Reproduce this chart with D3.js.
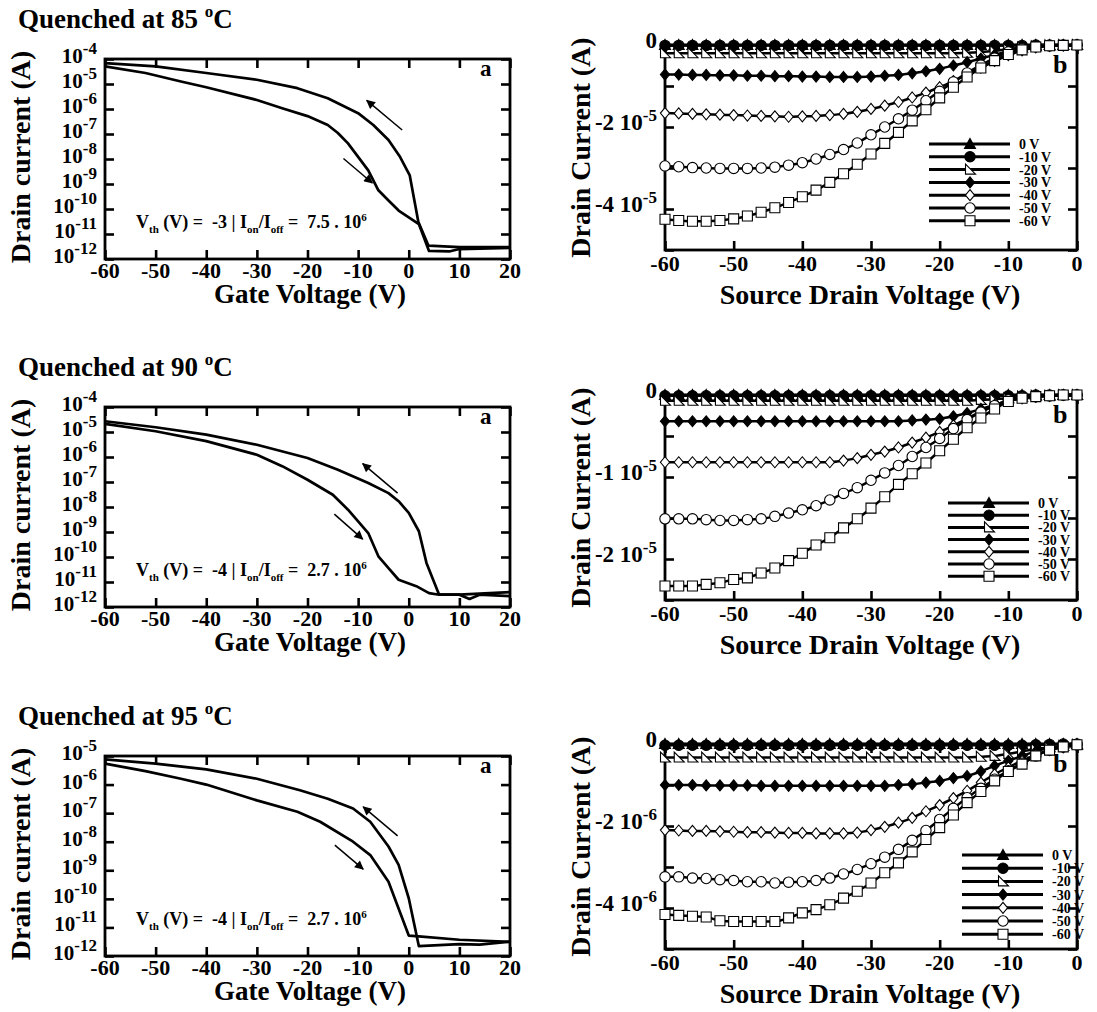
<!DOCTYPE html>
<html>
<head>
<meta charset="utf-8">
<script src="https://cdn.jsdelivr.net/npm/d3@7"></script>
<style>
body { margin: 0; background: #fff; }
text { font-family: "Liberation Serif", "Times New Roman", serif; font-weight: bold; fill: #000; white-space: pre; }
</style>
</head>
<body>
<svg id="fig" width="1097" height="1012"></svg>
<script>
// ---- data ----
var temps = ["85", "90", "95"];
var vthVals = ["-3", "-4", "-4"];
var ratioVals = ["7.5", "2.7", "2.7"];
var gateTicks = [-60, -50, -40, -30, -20, -10, 0, 10, 20];
var sdTicks = [-60, -50, -40, -30, -20, -10, 0];

// transfer curves, gate voltage (V) / drain current (A)
var up85V = [-60, -50, -40, -30, -22, -16, -10, -7, -4, -1.7, 0.2, 1.9, 3.9, 10, 20];
var up85I = [6.9e-5, 5.1e-5, 2.75e-5, 1.48e-5, 6.8e-6, 2.7e-6, 6.8e-7, 2.3e-7, 5.8e-8, 1.2e-8, 2.2e-9, 3.0e-11, 3.4e-12, 3.0e-12, 3.0e-12];
var dn85V = [-60, -52, -45, -40, -30, -25, -20, -16, -14, -12, -8, -6, -4, -2, 2, 4, 8, 10, 20];
var dn85I = [5.1e-5, 2.75e-5, 1.26e-5, 7.4e-6, 2.3e-6, 1.07e-6, 5.2e-7, 2.3e-7, 1.1e-7, 4.2e-8, 3.5e-9, 5.6e-10, 2.2e-10, 8.7e-11, 2.5e-11, 2.1e-12, 2.0e-12, 2.5e-12, 2.75e-12];
var up90V = [-60, -50, -40, -30, -20, -14, -8, -4, -2, 0, 2, 3.5, 6, 10, 20];
var up90I = [2.7e-5, 1.55e-5, 7.8e-6, 3.1e-6, 9.1e-7, 3.1e-7, 9.1e-8, 3.6e-8, 1.7e-8, 5.8e-9, 1.07e-9, 5.8e-11, 3.1e-12, 3.1e-12, 3.9e-12];
var dn90V = [-60, -50, -40, -30, -25, -20, -15, -12, -8, -6, -4, -2, 1.5, 4, 6, 10, 12, 14, 20];
var dn90I = [2.1e-5, 1.07e-5, 4.3e-6, 1.23e-6, 4.3e-7, 1.23e-7, 3.1e-8, 7.8e-9, 9.1e-10, 1.07e-10, 3.6e-11, 1.23e-11, 6.8e-12, 3.6e-12, 3.1e-12, 3.1e-12, 2.1e-12, 3.1e-12, 2.7e-12];
var up95V = [-60, -50, -40, -30, -21.5, -16, -11, -7.6, -4, -2, 0, 2, 10, 14, 20];
var up95I = [7.6e-6, 5.4e-6, 3.4e-6, 1.6e-6, 6.3e-7, 3.2e-7, 1.45e-7, 5.0e-8, 6.8e-9, 1.55e-9, 1.05e-10, 2.2e-12, 2.6e-12, 2.5e-12, 3.2e-12];
var dn95V = [-60, -52, -45, -40, -30, -22, -17.5, -11, -7.6, -4, 0, 2, 10, 20];
var dn95I = [5.4e-6, 2.95e-6, 1.6e-6, 1.0e-6, 2.8e-7, 1.12e-7, 5.0e-8, 1.0e-8, 3.4e-9, 4.0e-10, 5.2e-12, 4.9e-12, 3.7e-12, 3.1e-12];

// decade exponents on the log axes
var decExp85 = [-4, -5, -6, -7, -8, -9, -10, -11, -12];
var decExp90 = [-4, -5, -6, -7, -8, -9, -10, -11, -12];
var decExp95 = [-5, -6, -7, -8, -9, -10, -11, -12];

// sweep arrows [V, I] start -> end
var arrowUp85 = [[-1.3, 1.45e-7], [-8.3, 2.2e-6]];
var arrowDn85 = [[-12.9, 1.05e-8], [-7.2, 1.1e-9]];
var arrowUp90 = [[-2.2, 3.6e-8], [-9.1, 5.4e-7]];
var arrowDn90 = [[-14.7, 5.2e-9], [-9.1, 5.2e-10]];
var arrowUp95 = [[-2.2, 1.6e-8], [-9.0, 1.66e-7]];
var arrowDn95 = [[-14.6, 7.6e-9], [-9.0, 1.1e-9]];

// output curves, source-drain voltage (V)
var vds = [-60, -58, -56, -54, -52, -50, -48, -46, -44, -42, -40, -38, -36, -34, -32, -30, -28, -26, -24, -22, -20, -18, -16, -14, -12, -10, -8, -6, -4, -2, 0];
var gateLabels = ["0 V", "-10 V", "-20 V", "-30 V", "-40 V", "-50 V", "-60 V"];

// 85 C, drain current in units of 1e-5 A
var ids85_0 = [0, 0, 0, 0, 0, 0, 0, 0, 0, 0, 0, 0, 0, 0, 0, 0, 0, 0, 0, 0, 0, 0, 0, 0, 0, 0, 0, 0, 0, 0, 0];
var ids85_10 = [-0.01, -0.01, -0.01, -0.01, -0.01, -0.01, -0.01, -0.01, -0.01, -0.01, -0.01, -0.01, -0.01, -0.01, -0.01, -0.01, -0.01, -0.01, -0.01, -0.01, -0.01, -0.01, -0.01, -0.01, -0.01, -0.01, -0.01, 0, 0, 0, 0];
var ids85_20 = [-0.2, -0.2, -0.2, -0.2, -0.2, -0.2, -0.2, -0.2, -0.2, -0.2, -0.2, -0.2, -0.2, -0.2, -0.2, -0.2, -0.2, -0.2, -0.2, -0.2, -0.2, -0.2, -0.19, -0.17, -0.14, -0.1, -0.06, -0.03, -0.01, 0, 0];
var ids85_30 = [-0.72, -0.72, -0.73, -0.73, -0.74, -0.74, -0.75, -0.75, -0.76, -0.76, -0.77, -0.77, -0.78, -0.78, -0.78, -0.77, -0.75, -0.73, -0.69, -0.64, -0.58, -0.5, -0.42, -0.33, -0.24, -0.16, -0.09, -0.04, -0.02, -0.01, 0];
var ids85_40 = [-1.66, -1.67, -1.68, -1.69, -1.7, -1.71, -1.72, -1.73, -1.74, -1.75, -1.74, -1.73, -1.71, -1.68, -1.63, -1.56, -1.48, -1.39, -1.28, -1.16, -1.03, -0.88, -0.72, -0.55, -0.39, -0.25, -0.13, -0.06, -0.02, -0.01, 0];
var ids85_50 = [-2.95, -2.97, -2.99, -3.0, -3.01, -3.01, -3.01, -3.0, -2.98, -2.93, -2.87, -2.78, -2.67, -2.55, -2.39, -2.19, -2.0, -1.8, -1.59, -1.36, -1.13, -0.9, -0.68, -0.49, -0.32, -0.17, -0.09, -0.04, -0.02, -0.01, 0];
var ids85_60 = [-4.25, -4.28, -4.3, -4.3, -4.28, -4.24, -4.17, -4.08, -3.97, -3.84, -3.7, -3.54, -3.35, -3.14, -2.91, -2.66, -2.4, -2.13, -1.85, -1.58, -1.29, -1.03, -0.78, -0.56, -0.38, -0.23, -0.12, -0.05, -0.02, -0.01, 0];

// 90 C, units of 1e-5 A
var ids90_0 = [0, 0, 0, 0, 0, 0, 0, 0, 0, 0, 0, 0, 0, 0, 0, 0, 0, 0, 0, 0, 0, 0, 0, 0, 0, 0, 0, 0, 0, 0, 0];
var ids90_10 = [-0.01, -0.01, -0.01, -0.01, -0.01, -0.01, -0.01, -0.01, -0.01, -0.01, -0.01, -0.01, -0.01, -0.01, -0.01, -0.01, -0.01, -0.01, -0.01, -0.01, -0.01, -0.01, -0.01, -0.01, -0.01, -0.01, -0.01, 0, 0, 0, 0];
var ids90_20 = [-0.07, -0.07, -0.07, -0.07, -0.07, -0.07, -0.07, -0.07, -0.07, -0.07, -0.07, -0.07, -0.07, -0.07, -0.07, -0.07, -0.07, -0.07, -0.07, -0.07, -0.07, -0.07, -0.07, -0.06, -0.05, -0.04, -0.02, -0.01, -0.01, 0, 0];
var ids90_30 = [-0.32, -0.32, -0.32, -0.32, -0.32, -0.32, -0.32, -0.32, -0.32, -0.32, -0.32, -0.32, -0.32, -0.32, -0.32, -0.32, -0.32, -0.32, -0.31, -0.3, -0.29, -0.26, -0.22, -0.17, -0.12, -0.07, -0.04, -0.02, -0.01, 0, 0];
var ids90_40 = [-0.82, -0.82, -0.82, -0.82, -0.82, -0.82, -0.82, -0.82, -0.82, -0.82, -0.82, -0.82, -0.82, -0.8, -0.77, -0.73, -0.69, -0.64, -0.58, -0.52, -0.45, -0.37, -0.29, -0.2, -0.13, -0.07, -0.03, -0.02, -0.01, 0, 0];
var ids90_50 = [-1.51, -1.51, -1.51, -1.52, -1.53, -1.53, -1.52, -1.51, -1.48, -1.44, -1.4, -1.35, -1.28, -1.2, -1.13, -1.04, -0.95, -0.86, -0.75, -0.64, -0.53, -0.41, -0.3, -0.21, -0.13, -0.06, -0.03, -0.02, -0.01, 0, 0];
var ids90_60 = [-2.33, -2.33, -2.33, -2.31, -2.29, -2.25, -2.23, -2.17, -2.11, -2.02, -1.93, -1.83, -1.74, -1.62, -1.51, -1.38, -1.24, -1.09, -0.96, -0.83, -0.68, -0.54, -0.4, -0.28, -0.17, -0.08, -0.04, -0.02, -0.01, 0, 0];

// 95 C, units of 1e-6 A
var ids95_0 = [0, 0, 0, 0, 0, 0, 0, 0, 0, 0, 0, 0, 0, 0, 0, 0, 0, 0, 0, 0, 0, 0, 0, 0, 0, 0, 0, 0, 0, 0, 0];
var ids95_10 = [-0.03, -0.03, -0.03, -0.03, -0.03, -0.03, -0.03, -0.03, -0.03, -0.03, -0.03, -0.03, -0.03, -0.03, -0.03, -0.03, -0.03, -0.03, -0.03, -0.03, -0.03, -0.03, -0.03, -0.03, -0.03, -0.03, -0.03, -0.02, -0.01, 0, 0];
var ids95_20 = [-0.33, -0.33, -0.33, -0.33, -0.33, -0.33, -0.33, -0.33, -0.33, -0.33, -0.33, -0.33, -0.33, -0.33, -0.33, -0.33, -0.33, -0.33, -0.33, -0.33, -0.33, -0.33, -0.33, -0.31, -0.29, -0.24, -0.18, -0.12, -0.08, -0.05, -0.02];
var ids95_30 = [-1.0, -1.0, -1.0, -1.01, -1.01, -1.01, -1.01, -1.02, -1.02, -1.02, -1.02, -1.02, -1.02, -1.02, -1.02, -1.02, -1.02, -1.0, -0.98, -0.94, -0.9, -0.83, -0.78, -0.67, -0.53, -0.41, -0.29, -0.18, -0.1, -0.06, -0.03];
var ids95_40 = [-2.1, -2.11, -2.12, -2.12, -2.13, -2.14, -2.15, -2.15, -2.16, -2.17, -2.17, -2.18, -2.18, -2.18, -2.16, -2.1, -2.02, -1.92, -1.8, -1.64, -1.49, -1.32, -1.14, -0.94, -0.74, -0.57, -0.41, -0.26, -0.15, -0.08, -0.04];
var ids95_50 = [-3.24, -3.24, -3.27, -3.28, -3.31, -3.33, -3.36, -3.36, -3.39, -3.37, -3.36, -3.33, -3.27, -3.17, -3.06, -2.92, -2.76, -2.57, -2.35, -2.11, -1.84, -1.57, -1.31, -1.08, -0.86, -0.65, -0.47, -0.29, -0.15, -0.07, -0.02];
var ids95_60 = [-4.16, -4.18, -4.2, -4.22, -4.31, -4.33, -4.33, -4.33, -4.33, -4.24, -4.12, -4.04, -3.92, -3.76, -3.59, -3.39, -3.14, -2.9, -2.63, -2.33, -2.04, -1.73, -1.43, -1.16, -0.9, -0.67, -0.49, -0.29, -0.15, -0.07, -0.02];

// y axes of the output panels
var bUnit = [1e-5, 1e-5, 1e-6];
var bTicks85 = [0, -1, -2, -3, -4, -5];
var bTicks90 = [0, -0.5, -1, -1.5, -2, -2.5];
var bTicks95 = [0, -1, -2, -3, -4, -5];
var bLabVal85 = [0, -2, -4], bLabVal90 = [0, -1, -2], bLabVal95 = [0, -2, -4];
var bLabTxt85 = ["0", "-2 10", "-4 10"], bLabTxt90 = ["0", "-1 10", "-2 10"], bLabTxt95 = ["0", "-2 10", "-4 10"];
var bLabExp = ["-5", "-5", "-6"];

// ---- drawing ----
var svg = d3.select("#fig");

var upV = [up85V, up90V, up95V], upI = [up85I, up90I, up95I];
var dnV = [dn85V, dn90V, dn95V], dnI = [dn85I, dn90I, dn95I];
var decExp = [decExp85, decExp90, decExp95];
var arrows = [[arrowUp85, arrowDn85], [arrowUp90, arrowDn90], [arrowUp95, arrowDn95]];
var series = [
	[ids85_0, ids85_10, ids85_20, ids85_30, ids85_40, ids85_50, ids85_60],
	[ids90_0, ids90_10, ids90_20, ids90_30, ids90_40, ids90_50, ids90_60],
	[ids95_0, ids95_10, ids95_20, ids95_30, ids95_40, ids95_50, ids95_60]
];
var bTicks = [bTicks85, bTicks90, bTicks95];
var bLabVal = [bLabVal85, bLabVal90, bLabVal95];
var bLabTxt = [bLabTxt85, bLabTxt90, bLabTxt95];

var aTop = [59, 407, 756];
var bTop = [45, 395, 744];
var legendLeft = [929, 948, 962];
var legendTop = [144, 503, 855];
var legendStep = [12.8, 12.2, 13.2];

svg.append("defs").append("marker")
	.attr("id", "head")
	.attr("viewBox", "0 0 10 10")
	.attr("refX", 9).attr("refY", 5)
	.attr("markerWidth", 13).attr("markerHeight", 9)
	.attr("markerUnits", "userSpaceOnUse")
	.attr("orient", "auto")
	.append("path").attr("d", "M0,0L10,5L0,10Z").attr("fill", "#000");

// marker shapes: [path, filled]
var shapes = [
	["M0,-5.5L5.5,4.5L-5.5,4.5Z", true],
	[d3.symbol(d3.symbolCircle, 85)(), true],
	["M-4.5,-5.5L-4.5,4.5L5.5,4.5Z", false],
	["M0,-5.5L4.6,0L0,5.5L-4.6,0Z", true],
	["M0,-5.5L4.6,0L0,5.5L-4.6,0Z", false],
	[d3.symbol(d3.symbolCircle, 85)(), false],
	["M-5,-5L5,-5L5,5L-5,5Z", false]
];

function styleTicks(g) {
	g.select(".domain").remove();
	g.selectAll(".tick line").attr("stroke", "#000").attr("stroke-width", 2.6);
}

function frameTicks(g, x, y, xt, yt, left, right, top, bottom) {
	g.append("g").attr("transform", "translate(0," + bottom + ")")
		.call(d3.axisBottom(x).tickValues(xt).tickSize(-9).tickFormat("")).call(styleTicks);
	g.append("g").attr("transform", "translate(0," + top + ")")
		.call(d3.axisTop(x).tickValues(xt).tickSize(-9).tickFormat("")).call(styleTicks);
	g.append("g").attr("transform", "translate(" + left + ",0)")
		.call(d3.axisLeft(y).tickValues(yt).tickSize(-9).tickFormat("")).call(styleTicks);
	g.append("g").attr("transform", "translate(" + right + ",0)")
		.call(d3.axisRight(y).tickValues(yt).tickSize(-9).tickFormat("")).call(styleTicks);
	g.append("rect").attr("x", left).attr("y", top)
		.attr("width", right - left).attr("height", bottom - top)
		.attr("fill", "none").attr("stroke", "#000").attr("stroke-width", 2.8);
}

function drawTransfer(i) {
	var left = 105, right = 510, top = aTop[i], bottom = top + 200;
	var x = d3.scaleLinear().domain([-60, 20]).range([left, right]);
	var y = d3.scaleLog().domain([1e-12, Math.pow(10, decExp[i][0])]).range([bottom, top]);
	var g = svg.append("g");
	var yt = decExp[i].map(function(e) { return Math.pow(10, e); });

	frameTicks(g, x, y, gateTicks, yt, left, right, top, bottom);

	var line = d3.line().x(function(d) { return x(d[0]); }).y(function(d) { return y(d[1]); });
	[d3.zip(upV[i], upI[i]), d3.zip(dnV[i], dnI[i])].forEach(function(pts) {
		g.append("path").datum(pts).attr("d", line)
			.attr("fill", "none").attr("stroke", "#000").attr("stroke-width", 2.7)
			.attr("stroke-linejoin", "round");
	});

	arrows[i].forEach(function(a) {
		g.append("line")
			.attr("x1", x(a[0][0])).attr("y1", y(a[0][1]))
			.attr("x2", x(a[1][0])).attr("y2", y(a[1][1]))
			.attr("stroke", "#000").attr("stroke-width", 1.5)
			.attr("marker-end", "url(#head)");
	});

	// tick labels
	g.selectAll(".xl").data(gateTicks).enter().append("text")
		.attr("x", function(d) { return x(d); }).attr("y", bottom + 19)
		.attr("text-anchor", "middle").attr("font-size", 22)
		.text(function(d) { return d; });
	decExp[i].forEach(function(e) {
		var t = g.append("text").attr("x", 97).attr("y", y(Math.pow(10, e)) + 4)
			.attr("text-anchor", "end").attr("font-size", 21);
		t.append("tspan").text("10");
		t.append("tspan").attr("dy", -9).attr("font-size", 17).text(e);
	});

	g.append("text").attr("x", 310).attr("y", bottom + 44)
		.attr("text-anchor", "middle").attr("font-size", 27).text("Gate Voltage (V)");
	g.append("text").attr("transform", "translate(30," + ((top + bottom) / 2 - 2) + ") rotate(-90)")
		.attr("text-anchor", "middle").attr("font-size", 28).text("Drain current (A)");

	var ttl = g.append("text").attr("x", 18).attr("y", top - 31).attr("font-size", 27);
	ttl.append("tspan").text("Quenched at " + temps[i] + " ");
	ttl.append("tspan").attr("dy", -11).attr("font-size", 17).text("o");
	ttl.append("tspan").attr("dy", 11).text("C");

	g.append("text").attr("x", 480).attr("y", top + 17).attr("font-size", 23).text("a");

	var an = g.append("text").attr("x", 136).attr("y", bottom - 31).attr("font-size", 18);
	an.append("tspan").text("V");
	an.append("tspan").attr("dy", 5).attr("font-size", 11).text("th");
	an.append("tspan").attr("dy", -5).text(" (V) =  " + vthVals[i] + " | I");
	an.append("tspan").attr("dy", 5).attr("font-size", 11).text("on");
	an.append("tspan").attr("dy", -5).text("/I");
	an.append("tspan").attr("dy", 5).attr("font-size", 11).text("off");
	an.append("tspan").attr("dy", -5).text(" =  " + ratioVals[i] + " . 10");
	an.append("tspan").attr("dy", -7).attr("font-size", 11).text("6");
}

function drawOutput(i) {
	var left = 665, right = 1077, top = bTop[i], bottom = top + 205;
	var unit = bUnit[i];
	var ymin = bTicks[i][bTicks[i].length - 1];
	var x = d3.scaleLinear().domain([-60, 0]).range([left, right]);
	var y = d3.scaleLinear().domain([ymin * unit, 0]).range([bottom, top]);
	var g = svg.append("g");

	frameTicks(g, x, y, sdTicks, bTicks[i].map(function(v) { return v * unit; }), left, right, top, bottom);

	g.selectAll(".xl").data(sdTicks).enter().append("text")
		.attr("x", function(d) { return x(d); }).attr("y", bottom + 21)
		.attr("text-anchor", "middle").attr("font-size", 22)
		.text(function(d) { return d; });
	bLabVal[i].forEach(function(v, k) {
		var t = g.append("text").attr("x", 657).attr("y", y(v * unit) + 3)
			.attr("text-anchor", "end").attr("font-size", 23);
		t.append("tspan").text(bLabTxt[i][k]);
		if (v !== 0) t.append("tspan").attr("dy", -9).attr("font-size", 17).text(bLabExp[i]);
	});

	g.append("text").attr("x", 870).attr("y", bottom + 54)
		.attr("text-anchor", "middle").attr("font-size", 28).text("Source Drain Voltage (V)");
	g.append("text").attr("transform", "translate(590," + (top + bottom) / 2 + ") rotate(-90)")
		.attr("text-anchor", "middle").attr("font-size", 28).text("Drain Current (A)");
	g.append("text").attr("x", 1053).attr("y", top + 28).attr("font-size", 26).text("b");

	var line = d3.line().curve(d3.curveMonotoneX)
		.x(function(d) { return x(d[0]); }).y(function(d) { return y(d[1] * unit); });
	series[i].forEach(function(s) {
		g.append("path").datum(d3.zip(vds, s)).attr("d", line)
			.attr("fill", "none").attr("stroke", "#000").attr("stroke-width", 2.5);
	});
	series[i].forEach(function(s, k) {
		g.selectAll(null).data(d3.zip(vds, s)).enter().append("path")
			.attr("transform", function(d) { return "translate(" + x(d[0]) + "," + y(d[1] * unit) + ")"; })
			.attr("d", shapes[k][0])
			.attr("fill", shapes[k][1] ? "#000" : "#fff")
			.attr("stroke", "#000").attr("stroke-width", 1.1);
	});

	// legend
	var lg = g.append("g");
	gateLabels.forEach(function(lab, k) {
		var ly = legendTop[i] + k * legendStep[i];
		lg.append("line").attr("x1", legendLeft[i]).attr("x2", legendLeft[i] + 81)
			.attr("y1", ly).attr("y2", ly).attr("stroke", "#000").attr("stroke-width", 3);
		lg.append("path").attr("transform", "translate(" + (legendLeft[i] + 41) + "," + ly + ")")
			.attr("d", shapes[k][0])
			.attr("fill", shapes[k][1] ? "#000" : "#fff")
			.attr("stroke", "#000").attr("stroke-width", 1.1);
		lg.append("text").attr("x", legendLeft[i] + 90).attr("y", ly + 5)
			.attr("font-size", 14).text(lab);
	});
}

[0, 1, 2].forEach(function(i) {
	drawTransfer(i);
	drawOutput(i);
});
</script>
</body>
</html>
